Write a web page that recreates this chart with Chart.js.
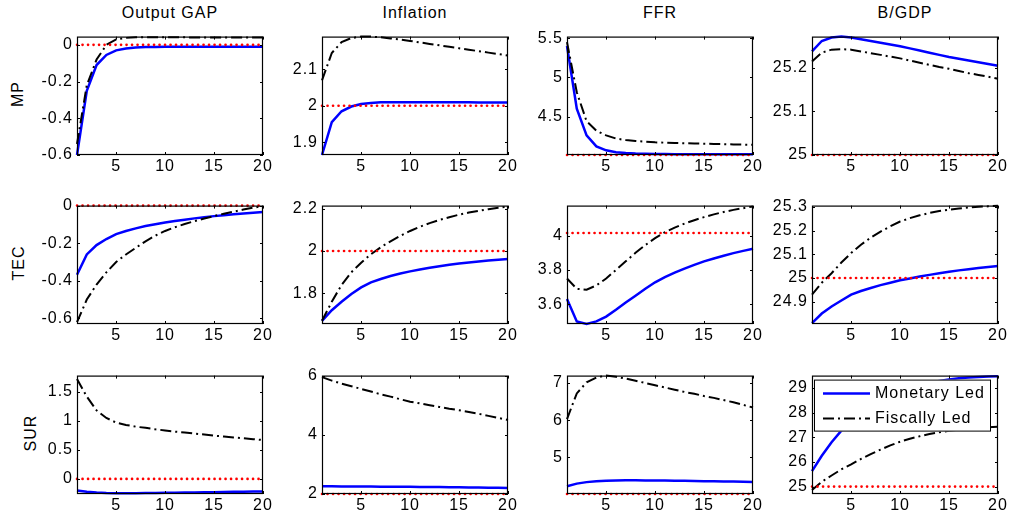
<!DOCTYPE html>
<html>
<head>
<meta charset="utf-8">
<script src="https://cdn.jsdelivr.net/npm/chart.js@4.4.1/dist/chart.umd.min.js"></script>
<style>
  body { margin: 0; background: #fff; width: 1011px; height: 522px; position: relative; overflow: hidden;
         font-family: "Liberation Sans", Arial, sans-serif; color: #000; }
  .panel { position: absolute; }
  .title { position: absolute; font-size: 16px; line-height: 16px; letter-spacing: 1px; white-space: nowrap; transform: translateX(-50%); }
  .rowlab { position: absolute; font-size: 16px; line-height: 16px; letter-spacing: 1px; white-space: nowrap; transform: translate(-50%, -50%) rotate(-90deg); }
</style>
</head>
<body>
<script>
const periods = [1, 2, 3, 4, 5, 6, 7, 8, 9, 10, 11, 12, 13, 14, 15, 16, 17, 18, 19, 20];
const xTicks = [5, 10, 15, 20];
const colTitles = ["Output GAP", "Inflation", "FFR", "B/GDP"];
const rowLabels = ["MP", "TEC", "SUR"];
const seriesNames = ["Monetary Led", "Fiscally Led"];

// MP shock
const gapMonMP = [-0.6, -0.25, -0.11, -0.055, -0.03, -0.02, -0.015, -0.012, -0.011, -0.01, -0.01, -0.01, -0.01, -0.01, -0.01, -0.01, -0.01, -0.01, -0.01, -0.01];
const gapFisMP = [-0.54, -0.22, -0.08, 0.0, 0.03, 0.038, 0.041, 0.042, 0.042, 0.041, 0.041, 0.041, 0.04, 0.04, 0.04, 0.04, 0.04, 0.04, 0.04, 0.04];
const infMonMP = [1.865, 1.955, 1.985, 1.998, 2.005, 2.008, 2.01, 2.01, 2.01, 2.01, 2.01, 2.01, 2.01, 2.01, 2.01, 2.01, 2.009, 2.009, 2.009, 2.009];
const infFisMP = [2.07, 2.145, 2.175, 2.186, 2.19, 2.19, 2.188, 2.185, 2.182, 2.178, 2.174, 2.17, 2.166, 2.162, 2.158, 2.154, 2.15, 2.146, 2.142, 2.138];
const ffrMonMP = [5.4, 4.6, 4.26, 4.12, 4.07, 4.045, 4.035, 4.028, 4.025, 4.023, 4.022, 4.021, 4.02, 4.02, 4.02, 4.02, 4.02, 4.02, 4.02, 4.02];
const ffrFisMP = [5.45, 4.81, 4.44, 4.32, 4.26, 4.22, 4.2, 4.19, 4.18, 4.172, 4.167, 4.163, 4.16, 4.157, 4.154, 4.151, 4.148, 4.145, 4.142, 4.14];
const bgdpMonMP = [25.238, 25.262, 25.27, 25.272, 25.27, 25.266, 25.262, 25.258, 25.254, 25.25, 25.245, 25.24, 25.235, 25.23, 25.225, 25.221, 25.217, 25.213, 25.209, 25.205];
const bgdpFisMP = [25.215, 25.235, 25.242, 25.243, 25.242, 25.238, 25.234, 25.23, 25.226, 25.222, 25.217, 25.212, 25.207, 25.202, 25.198, 25.193, 25.188, 25.184, 25.18, 25.175];

// TEC shock
const gapMonTEC = [-0.368, -0.26, -0.21, -0.178, -0.152, -0.135, -0.121, -0.109, -0.099, -0.09, -0.082, -0.075, -0.068, -0.062, -0.056, -0.051, -0.046, -0.042, -0.038, -0.034];
const gapFisTEC = [-0.62, -0.5, -0.42, -0.355, -0.3, -0.26, -0.225, -0.19, -0.16, -0.135, -0.115, -0.098, -0.083, -0.069, -0.056, -0.043, -0.032, -0.021, -0.011, -0.003];
const infMonTEC = [1.67, 1.72, 1.76, 1.797, 1.828, 1.852, 1.868, 1.882, 1.894, 1.904, 1.913, 1.921, 1.928, 1.935, 1.941, 1.946, 1.951, 1.955, 1.959, 1.963];
const infFisTEC = [1.67, 1.76, 1.84, 1.9, 1.945, 1.985, 2.018, 2.046, 2.072, 2.095, 2.115, 2.132, 2.147, 2.16, 2.172, 2.182, 2.19, 2.198, 2.205, 2.21];
const ffrMonTEC = [3.63, 3.5, 3.485, 3.5, 3.528, 3.568, 3.61, 3.65, 3.69, 3.728, 3.758, 3.784, 3.808, 3.83, 3.85, 3.867, 3.883, 3.898, 3.911, 3.924];
const ffrFisTEC = [3.75, 3.69, 3.685, 3.71, 3.75, 3.8, 3.85, 3.9, 3.945, 3.985, 4.02, 4.047, 4.07, 4.09, 4.108, 4.124, 4.138, 4.15, 4.16, 4.17];
const bgdpMonTEC = [24.81, 24.85, 24.88, 24.905, 24.93, 24.945, 24.958, 24.97, 24.98, 24.99, 24.998, 25.006, 25.013, 25.02, 25.026, 25.032, 25.037, 25.042, 25.046, 25.05];
const bgdpFisTEC = [24.93, 24.98, 25.02, 25.065, 25.105, 25.14, 25.17, 25.195, 25.218, 25.238, 25.252, 25.264, 25.274, 25.282, 25.288, 25.293, 25.297, 25.3, 25.302, 25.304];

// SUR shock
const gapMonSUR = [-0.2, -0.22, -0.235, -0.243, -0.246, -0.246, -0.245, -0.244, -0.242, -0.24, -0.238, -0.236, -0.233, -0.231, -0.228, -0.226, -0.223, -0.221, -0.218, -0.215];
const gapFisSUR = [1.72, 1.42, 1.18, 1.05, 0.97, 0.93, 0.9, 0.88, 0.855, 0.835, 0.815, 0.8, 0.78, 0.765, 0.745, 0.73, 0.715, 0.7, 0.685, 0.67];
const infMonSUR = [2.26, 2.258, 2.256, 2.254, 2.252, 2.25, 2.248, 2.246, 2.244, 2.242, 2.239, 2.236, 2.233, 2.23, 2.227, 2.223, 2.219, 2.215, 2.21, 2.205];
const infFisSUR = [5.95, 5.83, 5.73, 5.64, 5.55, 5.46, 5.37, 5.29, 5.2, 5.12, 5.06, 5.0, 4.94, 4.88, 4.83, 4.77, 4.71, 4.64, 4.57, 4.5];
const ffrMonSUR = [4.22, 4.29, 4.33, 4.355, 4.37, 4.375, 4.378, 4.378, 4.377, 4.375, 4.372, 4.368, 4.364, 4.36, 4.356, 4.352, 4.348, 4.344, 4.34, 4.336];
const ffrFisSUR = [6.03, 6.72, 7.02, 7.15, 7.2, 7.17, 7.12, 7.06, 7.0, 6.94, 6.88, 6.82, 6.76, 6.71, 6.65, 6.6, 6.54, 6.48, 6.41, 6.34];
const bgdpMonSUR = [25.63, 26.25, 26.8, 27.27, 27.66, 27.98, 28.25, 28.48, 28.67, 28.83, 28.97, 29.1, 29.2, 29.28, 29.34, 29.39, 29.42, 29.44, 29.46, 29.47];
const bgdpFisSUR = [24.86, 25.2, 25.45, 25.7, 25.9, 26.12, 26.32, 26.5, 26.67, 26.82, 26.94, 27.04, 27.13, 27.2, 27.26, 27.31, 27.35, 27.38, 27.41, 27.43];

// steady state (red dotted) per panel
const steadyMP = [0, 2, 4.01, 25];
const steadyTEC = [0, 2, 4.015, 25];
const steadySUR = [0, 2, 4.01, 25];

// axis limits and tick labels
const yMinMP = [-0.6, 1.865, 4.01, 25];
const yMaxMP = [0.045, 2.19, 5.52, 25.272];
const yMinTEC = [-0.63, 1.655, 3.485, 24.806];
const yMaxTEC = [0, 2.215, 4.175, 25.305];
const yMinSUR = [-0.26, 2, 4.01, 24.7];
const yMaxSUR = [1.78, 6, 7.2, 29.5];
const yTicksMP = [[-0.6, -0.4, -0.2, 0], [1.9, 2, 2.1], [4.5, 5, 5.5], [25, 25.1, 25.2]];
const yTicksTEC = [[-0.6, -0.4, -0.2, 0], [1.8, 2, 2.2], [3.6, 3.8, 4], [24.9, 25, 25.1, 25.2, 25.3]];
const yTicksSUR = [[0, 0.5, 1, 1.5], [2, 4, 6], [5, 6, 7], [25, 26, 27, 28, 29]];

const rows = [
  { mon: [gapMonMP, infMonMP, ffrMonMP, bgdpMonMP], fis: [gapFisMP, infFisMP, ffrFisMP, bgdpFisMP], ss: steadyMP, min: yMinMP, max: yMaxMP, ticks: yTicksMP },
  { mon: [gapMonTEC, infMonTEC, ffrMonTEC, bgdpMonTEC], fis: [gapFisTEC, infFisTEC, ffrFisTEC, bgdpFisTEC], ss: steadyTEC, min: yMinTEC, max: yMaxTEC, ticks: yTicksTEC },
  { mon: [gapMonSUR, infMonSUR, ffrMonSUR, bgdpMonSUR], fis: [gapFisSUR, infFisSUR, ffrFisSUR, bgdpFisSUR], ss: steadySUR, min: yMinSUR, max: yMaxSUR, ticks: yTicksSUR }
];

// layout
const colLeft = [77, 322, 567, 812];
const rowTop = [33, 202, 372];
const rowLabelX = [18, 19, 31];
const boxW = 186, boxH = 122;
const PADL = 60, PADT = 10, PADR = 16, PADB = 28;
const FONT = { family: "'Liberation Sans', Arial, sans-serif", size: 16 };

const frame = {
  id: 'frame',
  beforeDraw(chart) { chart.ctx.letterSpacing = '1px'; },
  afterDatasetsDraw(chart) {
    const { ctx, chartArea: a, scales: { x, y } } = chart;
    ctx.save();
    ctx.strokeStyle = '#000';
    ctx.lineWidth = 1.2;
    ctx.strokeRect(a.left + 0.5, a.top + 0.5, a.right - a.left - 1, a.bottom - a.top - 1);
    const L = 3;
    ctx.lineWidth = 1;
    ctx.beginPath();
    x.ticks.forEach(t => {
      const px = Math.round(x.getPixelForValue(t.value)) + 0.5;
      ctx.moveTo(px, a.bottom); ctx.lineTo(px, a.bottom - L);
      ctx.moveTo(px, a.top); ctx.lineTo(px, a.top + L);
    });
    y.ticks.forEach(t => {
      const py = Math.round(y.getPixelForValue(t.value)) + 0.5;
      ctx.moveTo(a.left, py); ctx.lineTo(a.left + L, py);
      ctx.moveTo(a.right, py); ctx.lineTo(a.right - L, py);
    });
    ctx.stroke();
    ctx.restore();
  }
};

const legendBox = {
  id: 'legendBox',
  afterDraw(chart) {
    const { ctx, chartArea: a } = chart;
    const lx = a.left + 2, ly = a.top + 4, lw = 177, lh = 52;
    ctx.save();
    ctx.fillStyle = '#fff';
    ctx.fillRect(lx, ly, lw, lh);
    ctx.strokeStyle = '#000';
    ctx.lineWidth = 1;
    ctx.strokeRect(lx + 0.5, ly + 0.5, lw - 1, lh - 1);
    ctx.font = "16px 'Liberation Sans', Arial, sans-serif";
    ctx.letterSpacing = '1px';
    ctx.fillStyle = '#000';
    ctx.textBaseline = 'middle';
    const rowsY = [ly + 14, ly + 39];
    ctx.strokeStyle = '#0000ff'; ctx.lineWidth = 2.5; ctx.setLineDash([]);
    ctx.beginPath(); ctx.moveTo(lx + 9, rowsY[0]); ctx.lineTo(lx + 56, rowsY[0]); ctx.stroke();
    ctx.strokeStyle = '#000'; ctx.lineWidth = 2; ctx.setLineDash([11, 4, 2, 4]);
    ctx.beginPath(); ctx.moveTo(lx + 9, rowsY[1]); ctx.lineTo(lx + 56, rowsY[1]); ctx.stroke();
    ctx.setLineDash([]);
    ctx.fillText(seriesNames[0], lx + 61, rowsY[0]);
    ctx.fillText(seriesNames[1], lx + 61, rowsY[1]);
    ctx.restore();
  }
};

function addText(cls, text, x, y) {
  const d = document.createElement('div');
  d.className = cls;
  d.textContent = text;
  d.style.left = x + 'px';
  d.style.top = y + 'px';
  document.body.appendChild(d);
}

colTitles.forEach((t, c) => addText('title', t, colLeft[c] + boxW / 2, 5));
rowLabels.forEach((t, r) => addText('rowlab', t, rowLabelX[r], rowTop[r] + boxH / 2));

rows.forEach((row, r) => {
  for (let c = 0; c < 4; c++) {
    const div = document.createElement('div');
    div.className = 'panel';
    div.style.left = (colLeft[c] - PADL) + 'px';
    div.style.top = (rowTop[r] - PADT) + 'px';
    div.style.width = (PADL + boxW + PADR) + 'px';
    div.style.height = (PADT + boxH + PADB) + 'px';
    const cv = document.createElement('canvas');
    div.appendChild(cv);
    document.body.appendChild(div);

    const tickList = row.ticks[c];
    const plugins = [frame];
    if (r === 2 && c === 3) plugins.push(legendBox);

    new Chart(cv, {
      type: 'line',
      data: {
        datasets: [
          { data: [{ x: periods[0], y: row.ss[c] }, { x: periods[periods.length - 1], y: row.ss[c] }],
            borderColor: '#ff0000', borderWidth: 2.6, borderDash: [0.1, 5.4], borderCapStyle: 'round', pointRadius: 0, clip: false },
          { data: row.fis[c].map((v, i) => ({ x: periods[i], y: v })),
            borderColor: '#000000', borderWidth: 2, borderDash: [11, 4, 2, 4], pointRadius: 0, tension: 0, clip: false },
          { data: row.mon[c].map((v, i) => ({ x: periods[i], y: v })),
            borderColor: '#0000ff', borderWidth: 2.5, pointRadius: 0, tension: 0, clip: false }
        ]
      },
      options: {
        responsive: true,
        maintainAspectRatio: false,
        animation: false,
        events: [],
        layout: { padding: { left: 0, top: PADT, right: PADR, bottom: 0 } },
        plugins: { legend: { display: false }, tooltip: { enabled: false } },
        scales: {
          x: {
            type: 'linear', min: 1, max: 20,
            afterBuildTicks: s => { s.ticks = xTicks.map(v => ({ value: v })); },
            afterFit: s => { s.height = PADB; },
            grid: { display: false, drawTicks: false },
            border: { display: false },
            ticks: { padding: 2, color: '#000', font: FONT, maxRotation: 0, autoSkip: false, callback: v => String(v) }
          },
          y: {
            type: 'linear', min: row.min[c], max: row.max[c],
            afterBuildTicks: s => { s.ticks = tickList.map(v => ({ value: v })); },
            afterFit: s => { s.width = PADL; },
            grid: { display: false, drawTicks: false },
            border: { display: false },
            ticks: { padding: 4, color: '#000', font: FONT, autoSkip: false, callback: v => String(v) }
          }
        }
      },
      plugins: plugins
    });
  }
});
</script>
</body>
</html>
